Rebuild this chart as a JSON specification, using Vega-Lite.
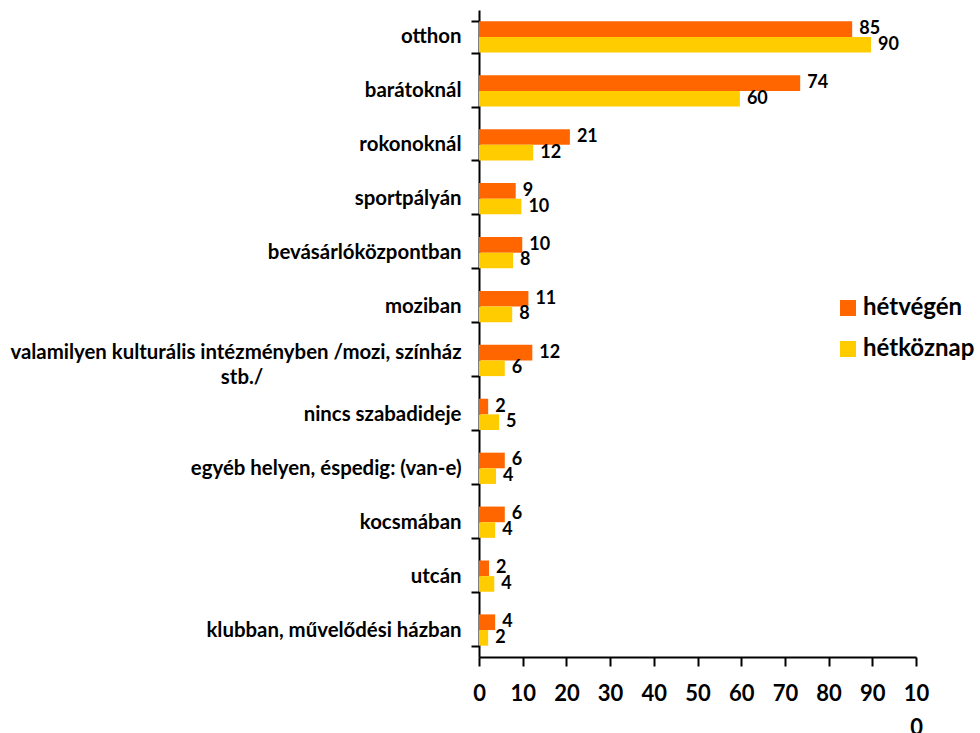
{
  "$schema": "https://vega.github.io/schema/vega-lite/v6.json",
  "width": 437,
  "height": 647,
  "autosize": {"type": "none"},
  "padding": {"left": 479, "top": 10, "right": 64, "bottom": 76},
  "background": "white",
  "config": {
    "view": {"stroke": null},
    "font": "Lato",
    "axis": {"grid": false, "domainColor": "black", "tickColor": "black", "labelColor": "black", "labelFont": "Lato", "labelFontWeight": "bold"}
  },
  "data": {
    "values": [
      {"hely": "otthon", "nap": "hétvégén", "ertek": 85.4, "cimke": 85},
      {"hely": "otthon", "nap": "hétköznap", "ertek": 89.7, "cimke": 90},
      {"hely": "barátoknál", "nap": "hétvégén", "ertek": 73.5, "cimke": 74},
      {"hely": "barátoknál", "nap": "hétköznap", "ertek": 59.7, "cimke": 60},
      {"hely": "rokonoknál", "nap": "hétvégén", "ertek": 20.8, "cimke": 21},
      {"hely": "rokonoknál", "nap": "hétköznap", "ertek": 12.4, "cimke": 12},
      {"hely": "sportpályán", "nap": "hétvégén", "ertek": 8.4, "cimke": 9},
      {"hely": "sportpályán", "nap": "hétköznap", "ertek": 9.7, "cimke": 10},
      {"hely": "bevásárlóközpontban", "nap": "hétvégén", "ertek": 9.9, "cimke": 10},
      {"hely": "bevásárlóközpontban", "nap": "hétköznap", "ertek": 7.8, "cimke": 8},
      {"hely": "moziban", "nap": "hétvégén", "ertek": 11.3, "cimke": 11},
      {"hely": "moziban", "nap": "hétköznap", "ertek": 7.6, "cimke": 8},
      {"hely": "valamilyen kulturális intézményben /mozi, színház stb./", "nap": "hétvégén", "ertek": 12.2, "cimke": 12},
      {"hely": "valamilyen kulturális intézményben /mozi, színház stb./", "nap": "hétköznap", "ertek": 5.9, "cimke": 6},
      {"hely": "nincs szabadideje", "nap": "hétvégén", "ertek": 2.1, "cimke": 2},
      {"hely": "nincs szabadideje", "nap": "hétköznap", "ertek": 4.6, "cimke": 5},
      {"hely": "egyéb helyen, éspedig: (van-e)", "nap": "hétvégén", "ertek": 5.9, "cimke": 6},
      {"hely": "egyéb helyen, éspedig: (van-e)", "nap": "hétköznap", "ertek": 3.9, "cimke": 4},
      {"hely": "kocsmában", "nap": "hétvégén", "ertek": 5.9, "cimke": 6},
      {"hely": "kocsmában", "nap": "hétköznap", "ertek": 3.7, "cimke": 4},
      {"hely": "utcán", "nap": "hétvégén", "ertek": 2.3, "cimke": 2},
      {"hely": "utcán", "nap": "hétköznap", "ertek": 3.5, "cimke": 4},
      {"hely": "klubban, művelődési házban", "nap": "hétvégén", "ertek": 3.7, "cimke": 4},
      {"hely": "klubban, művelődési házban", "nap": "hétköznap", "ertek": 2.1, "cimke": 2}
    ]
  },
  "encoding": {
    "y": {
      "field": "hely",
      "type": "nominal",
      "sort": null,
      "scale": {"paddingInner": 0.42, "paddingOuter": 0.21},
      "axis": {
        "title": null,
        "tickBand": "extent",
        "domainWidth": 2,
        "tickWidth": 2,
        "tickSize": 8,
        "labelPadding": 10,
        "labelFontSize": 20.4,
        "labelLimit": 600,
        "labelLineHeight": 25,
        "labelOffset": {"condition": {"test": "datum.value == 'valamilyen kulturális intézményben /mozi, színház stb./'", "value": -8}, "value": 0},
        "labelExpr": "datum.value == 'valamilyen kulturális intézményben /mozi, színház stb./' ? ['valamilyen kulturális intézményben /mozi, színház', pad('stb./', 45, '\u00a0') + '\u200d'] : datum.label"
      }
    },
    "yOffset": {
      "field": "nap",
      "type": "nominal",
      "sort": ["hétvégén", "hétköznap"],
      "scale": {"paddingInner": 0, "paddingOuter": 0}
    },
    "x": {
      "field": "ertek",
      "type": "quantitative",
      "scale": {"domain": [0, 100], "nice": false},
      "axis": {
        "title": null,
        "values": [0, 10, 20, 30, 40, 50, 60, 70, 80, 90, 100],
        "domainWidth": 2,
        "tickWidth": 2,
        "tickSize": 9,
        "labelPadding": 17,
        "labelFontSize": 22,
        "labelLineHeight": 34,
        "labelFlush": false,
        "labelExpr": "datum.value == 100 ? ['10', '0'] : datum.label"
      }
    }
  },
  "layer": [
    {
      "mark": {"type": "bar"},
      "encoding": {
        "color": {
          "field": "nap",
          "type": "nominal",
          "sort": ["hétvégén", "hétköznap"],
          "scale": {"domain": ["hétvégén", "hétköznap"], "range": ["#FF6600", "#FFCC00"]},
          "legend": {
            "title": null,
            "orient": "none",
            "legendX": 357,
            "legendY": 286,
            "padding": 0,
            "symbolType": "square",
            "symbolSize": 256,
            "symbolStrokeWidth": 0,
            "symbolOpacity": 1,
            "labelFontSize": 24,
            "labelFontWeight": "bold",
            "labelFont": "Lato",
            "labelColor": "black",
            "labelOffset": 3,
            "rowPadding": 17
          }
        }
      }
    },
    {
      "mark": {"type": "text", "align": "left", "baseline": "middle", "dx": 7, "fontSize": 18, "fontWeight": "bold", "font": "Lato", "color": "black"},
      "encoding": {
        "text": {"field": "cimke", "type": "quantitative"}
      }
    }
  ]
}
